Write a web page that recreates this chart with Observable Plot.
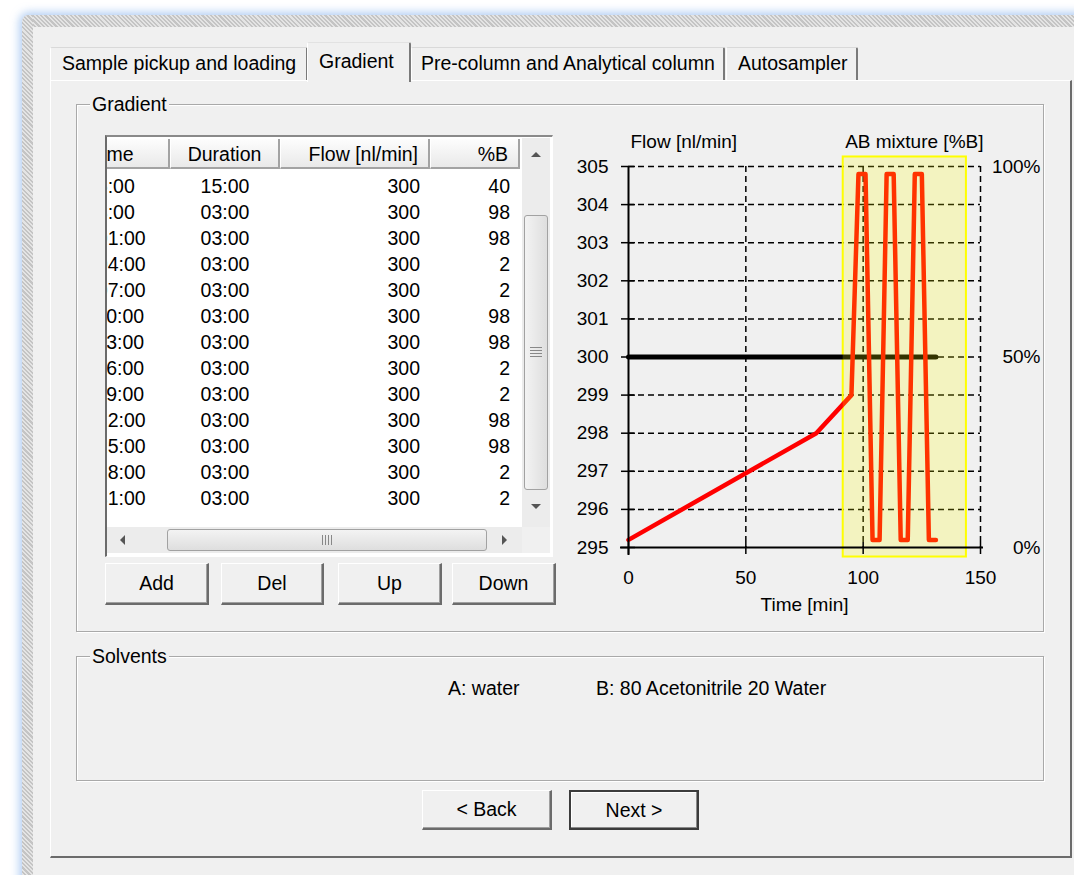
<!DOCTYPE html>
<html><head><meta charset="utf-8">
<script src="https://cdn.jsdelivr.net/npm/d3@7"></script>
<script src="https://cdn.jsdelivr.net/npm/@observablehq/plot@0.6"></script>
<style>
html,body{margin:0;padding:0;}
body{width:1074px;height:875px;position:relative;overflow:hidden;background:#fff;font-family:"Liberation Sans",Arial,sans-serif;font-size:19.5px;color:#000;}
.a{position:absolute;box-sizing:border-box;}
#win{left:22px;top:15px;width:1070px;height:880px;background:#f0f0f0;border-radius:7px 0 0 0;box-shadow:0 0 8px 3px rgba(120,170,235,0.55);}
.pat{background:repeating-linear-gradient(45deg,#c4c4c4 0 1.5px,#e4e4e4 1.5px 3px);}
#ftop{left:22px;top:15px;width:1060px;height:12px;border-radius:7px 0 0 0;}
#fleft{left:22px;top:15px;width:11px;height:870px;border-radius:7px 0 0 0;}
.tab{top:47px;height:33px;background:#f0f0f0;border-top:1px solid #d9d9d9;border-left:1px solid #fff;border-right:2px solid #7a7a7a;line-height:31px;padding-left:11px;white-space:nowrap;border-radius:2px 2px 0 0;}
.tab.act{top:42px;height:40px;line-height:36px;z-index:3;border-top:1px solid #e2e2e2;}
#panel{left:50px;top:80px;width:1022px;height:778px;border-left:1px solid #fff;border-top:1px solid #fff;border-right:2px solid #6b6b6b;border-bottom:2px solid #6b6b6b;}
.grp{border:1px solid #a9a9a9;box-shadow:inset 1px 1px 0 #fff,1px 1px 0 #fff;}
.glab{position:absolute;left:13px;top:-12px;line-height:22px;background:#f0f0f0;padding:0 2px;}
.btn{background:#f0f0f0;border-top:1px solid #fff;border-left:1px solid #fff;border-right:2px solid #6b6b6b;border-bottom:2px solid #6b6b6b;box-shadow:inset -1px -1px 0 #a0a0a0;text-align:center;}
.btn.def{border:2px solid #3c3c3c;box-shadow:inset -1px -1px 0 #8a8a8a,inset 1px 1px 0 #fff;}
#tbl{left:105px;top:135px;width:448px;height:422px;background:#fff;border-top:2px solid #8a8a8a;border-left:2px solid #6b6b6b;border-right:1px solid #fff;border-bottom:1px solid #fff;}
#view{left:107px;top:138px;width:415px;height:389px;overflow:hidden;background:#fff;}
#inner{left:-27px;top:0;width:460px;height:389px;}
.hc{top:1px;height:30px;line-height:30px;background:linear-gradient(#fdfdfd,#f2f2f2 55%,#e9e9e9);border-right:2px solid #a3a3a3;border-bottom:2px solid #a3a3a3;border-left:1px solid #fff;white-space:nowrap;overflow:hidden;}
.cell{height:26px;line-height:26px;white-space:nowrap;}
.sb{background:#ececec;}
.thumb{background:linear-gradient(90deg,#f3f3f3,#dedede);border:1px solid #a2a2a2;border-radius:3px;}
.thumbh{background:linear-gradient(#f3f3f3,#dedede);border:1px solid #a2a2a2;border-radius:3px;}
.tri{width:0;height:0;}
.txt{line-height:22px;white-space:nowrap;}
#chart{left:560px;top:120px;width:500px;height:500px;}
#chart svg{overflow:visible;}
</style></head>
<body>
<div id="win" class="a"></div>
<div id="ftop" class="a pat"></div>
<div id="fleft" class="a pat"></div>

<div id="panel" class="a"></div>
<div class="a tab" style="left:50px;width:258px;">Sample pickup and loading</div>
<div class="a tab act" style="left:307px;width:104px;">Gradient</div>
<div class="a tab" style="left:411px;width:314px;padding-left:9px;">Pre-column and Analytical column</div>
<div class="a tab" style="left:726px;width:132px;">Autosampler</div>

<div class="a grp" style="left:76px;top:104px;width:968px;height:528px;"><span class="glab">Gradient</span></div>
<div class="a grp" style="left:76px;top:656px;width:968px;height:125px;"><span class="glab">Solvents</span></div>

<div id="tbl" class="a"></div>
<div id="view" class="a"><div id="inner" class="a"></div></div>
<div class="a sb" style="left:522px;top:138px;width:28px;height:389px;"></div>
<div class="a tri" style="left:531px;top:152px;border-left:5px solid transparent;border-right:5px solid transparent;border-bottom:5px solid #555;"></div>
<div class="a thumb" style="left:524px;top:215px;width:24px;height:275px;"></div>
<div class="a" style="left:530px;top:347px;width:12px;height:10px;background:repeating-linear-gradient(#888 0 1px,transparent 1px 3px);"></div>
<div class="a tri" style="left:531px;top:504px;border-left:5px solid transparent;border-right:5px solid transparent;border-top:5px solid #555;"></div>
<div class="a sb" style="left:107px;top:527px;width:415px;height:26px;"></div>
<div class="a tri" style="left:120px;top:535px;border-top:5px solid transparent;border-bottom:5px solid transparent;border-right:5px solid #555;"></div>
<div class="a thumbh" style="left:167px;top:529px;width:320px;height:22px;"></div>
<div class="a" style="left:322px;top:535px;width:10px;height:10px;background:repeating-linear-gradient(90deg,#888 0 1px,transparent 1px 3px);"></div>
<div class="a tri" style="left:502px;top:535px;border-top:5px solid transparent;border-bottom:5px solid transparent;border-left:5px solid #555;"></div>
<div class="a" style="left:522px;top:527px;width:28px;height:26px;background:#f0f0f0;"></div>

<div class="a btn" style="left:105px;top:563px;width:104px;height:42px;line-height:39px;">Add</div>
<div class="a btn" style="left:221px;top:563px;width:103px;height:42px;line-height:39px;">Del</div>
<div class="a btn" style="left:338px;top:563px;width:104px;height:42px;line-height:39px;">Up</div>
<div class="a btn" style="left:452px;top:563px;width:104px;height:42px;line-height:39px;">Down</div>

<div class="a txt" style="left:448px;top:677px;">A: water</div>
<div class="a txt" style="left:596px;top:677px;">B: 80 Acetonitrile 20 Water</div>

<div class="a btn" style="left:422px;top:790px;width:130px;height:40px;line-height:37px;">&lt; Back</div>
<div class="a btn def" style="left:569px;top:790px;width:130px;height:40px;line-height:36px;">Next &gt;</div>

<div id="chart" class="a"></div>

<script>
// ---- table data ----
const tableHeaders = ["Time", "Duration", "Flow [nl/min]", "%B"];
const rowTimes = ["95:00","98:00","101:00","104:00","107:00","110:00","113:00","116:00","119:00","122:00","125:00","128:00","131:00"];
const rowDurations = ["15:00","03:00","03:00","03:00","03:00","03:00","03:00","03:00","03:00","03:00","03:00","03:00","03:00"];
const rowFlows = [300,300,300,300,300,300,300,300,300,300,300,300,300];
const rowB = [40,98,98,2,2,98,98,2,2,98,98,2,2];

// ---- chart data ----
const gradientTime = [0, 80, 95, 98, 101, 104, 107, 110, 113, 116, 119, 122, 125, 128, 131];
const gradientB    = [2, 30, 40, 98, 98, 2, 2, 98, 98, 2, 2, 98, 98, 2, 2];
const flowTime = [0, 131];
const flowRate = [300, 300];
const highlightTime = [91.5, 144];
const highlightB = [-2.5, 102.5];
const xTicks = [0, 50, 100, 150];
const yTicks = [295, 296, 297, 298, 299, 300, 301, 302, 303, 304, 305];
const bTicks = [0, 50, 100];
const flowDomain = [295, 305];
const chartTitles = {left: "Flow [nl/min]", right: "AB mixture [%B]", x: "Time [min]"};

// ---- build table ----
const inner = document.getElementById("inner");
const cols = [
  {w: 90, align: "left", hpad: "0 0 0 10px", cpad: "0 0 0 6px"},
  {w: 110, align: "center", hpad: "0", cpad: "0"},
  {w: 150, align: "right", hpad: "0 10px 0 0", cpad: "0 10px 0 0"},
  {w: 90, align: "right", hpad: "0 10px 0 0", cpad: "0 10px 0 0"}
];
let xs = 0;
const colX = cols.map(c => { const v = xs; xs += c.w; return v; });
tableHeaders.forEach((h, i) => {
  const d = document.createElement("div");
  d.className = "a hc";
  d.style.left = colX[i] + "px"; d.style.width = cols[i].w + "px";
  d.style.textAlign = cols[i].align; d.style.padding = cols[i].hpad;
  d.textContent = h;
  inner.appendChild(d);
});
const colsData = [rowTimes, rowDurations, rowFlows, rowB];
rowTimes.forEach((_, r) => {
  colsData.forEach((arr, i) => {
    const d = document.createElement("div");
    d.className = "a cell";
    d.style.left = colX[i] + "px"; d.style.width = cols[i].w + "px";
    d.style.top = (35 + r * 26) + "px";
    d.style.textAlign = cols[i].align; d.style.padding = cols[i].cpad;
    d.textContent = String(arr[r]);
    inner.appendChild(d);
  });
});

// ---- chart ----
const bToFlow = b => flowDomain[0] + (flowDomain[1] - flowDomain[0]) * b / 100;
const gradData = gradientTime.map((t, i) => ({t, b: gradientB[i]}));
const flowData = flowTime.map((t, i) => ({t, f: flowRate[i]}));
const hl = [{x1: highlightTime[0], x2: highlightTime[1], y1: bToFlow(highlightB[0]), y2: bToFlow(highlightB[1])}];
const dash = {stroke: "#000", strokeOpacity: 1, strokeDasharray: "6,4", strokeWidth: 1.5};

const chart = Plot.plot({
  width: 500, height: 500,
  marginLeft: 68, marginRight: 80, marginTop: 46, marginBottom: 73,
  x: {domain: [0, 150]},
  y: {domain: flowDomain},
  style: {fontFamily: '"Liberation Sans", Arial, sans-serif', fontSize: "19px", background: "transparent", color: "#000", overflow: "visible"},
  marks: [
    Plot.gridY({ticks: yTicks.slice(1), ...dash}),
    Plot.gridX({ticks: xTicks.slice(1), ...dash}),
    Plot.rect(hl, {x1: "x1", x2: "x2", y1: "y1", y2: "y2", fill: "none", stroke: "#ffff00", strokeWidth: 2}),
    Plot.line(flowData, {x: "t", y: "f", stroke: "#000", strokeWidth: 5}),
    Plot.line(gradData, {x: "t", y: d => bToFlow(d.b), stroke: "#ff0000", strokeWidth: 4.5}),
    Plot.rect(hl, {x1: "x1", x2: "x2", y1: "y1", y2: "y2", fill: "#ffff00", fillOpacity: 0.2}),
    Plot.ruleX([0], {stroke: "#000", strokeWidth: 2, insetBottom: -8}),
    Plot.ruleY([flowDomain[0]], {stroke: "#000", strokeWidth: 2, insetLeft: -8, insetRight: -3}),
    Plot.axisY({ticks: yTicks, tickSize: 14, dx: 7, tickFormat: () => "", label: null, strokeWidth: 1.5}),
    Plot.axisY({ticks: yTicks, tickSize: 0, tickPadding: 20, label: null}),
    Plot.axisY({anchor: "right", ticks: bTicks.map(bToFlow), tickFormat: v => `${Math.round((v - flowDomain[0]) * 10)}%`, tickSize: 0, tickPadding: 60, textAnchor: "end", label: null}),
    Plot.axisX({ticks: xTicks, tickSize: 12, dy: -5, tickFormat: () => "", label: null, strokeWidth: 1.5}),
    Plot.axisX({ticks: xTicks, tickSize: 0, tickPadding: 23, label: null}),
    Plot.text([chartTitles.left], {frameAnchor: "top-left", textAnchor: "start", dx: 2, dy: -32}),
    Plot.text([chartTitles.right], {frameAnchor: "top-right", textAnchor: "end", dx: 3, dy: -32}),
    Plot.text([chartTitles.x], {frameAnchor: "bottom", dy: 63})
  ]
});
document.getElementById("chart").appendChild(chart);
</script>
</body></html>
